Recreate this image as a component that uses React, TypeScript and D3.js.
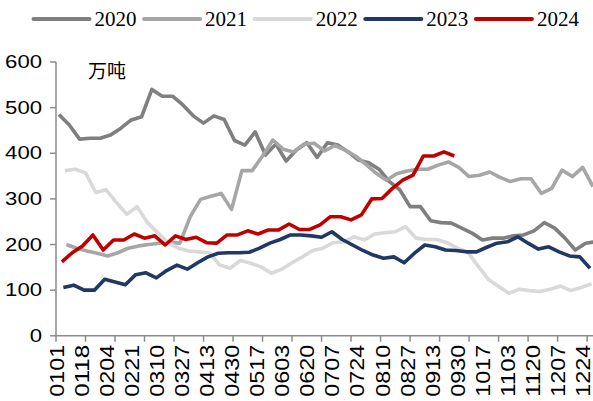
import React from 'react';
import * as d3 from 'd3';

const years = ['2020', '2021', '2022', '2023', '2024'];
// day-of-year index (0 = Jan 1) of the first weekly observation of each year
const firstObsDay = [2, 7, 6, 5, 4];

const v2020 = [485, 462, 431, 433, 433, 440, 455, 473, 480, 540, 525, 525, 506, 482, 466, 482, 474, 428, 418, 447, 396, 420, 383, 407, 423, 391, 423, 418, 403, 385, 379, 365, 338, 320, 283, 283, 252, 248, 247, 236, 225, 210, 214, 214, 219, 221, 230, 248, 236, 214, 188, 203, 206];
const v2021 = [200, 192, 186, 181, 175, 182, 192, 197, 200, 203, 205, 203, 261, 299, 306, 312, 277, 362, 362, 394, 429, 409, 403, 420, 422, 405, 417, 407, 394, 376, 356, 341, 355, 361, 365, 365, 374, 381, 369, 349, 352, 359, 347, 338, 344, 344, 312, 323, 363, 349, 369, 327];
const v2022 = [362, 365, 357, 314, 320, 292, 266, 283, 248, 226, 204, 192, 186, 184, 182, 155, 148, 165, 159, 151, 137, 146, 160, 173, 187, 192, 204, 206, 217, 210, 223, 226, 228, 239, 214, 211, 211, 204, 192, 184, 153, 124, 108, 93, 102, 99, 97, 102, 109, 99, 106, 114];
const v2023 = [106, 111, 100, 100, 124, 118, 112, 134, 138, 127, 143, 155, 146, 160, 173, 181, 182, 182, 183, 192, 203, 211, 221, 221, 219, 216, 228, 211, 199, 187, 177, 170, 173, 160, 181, 199, 195, 188, 187, 184, 184, 194, 203, 206, 217, 203, 190, 195, 184, 175, 173, 148];
const v2024 = [162, 182, 197, 221, 188, 210, 210, 223, 214, 219, 199, 219, 211, 216, 204, 203, 221, 221, 230, 223, 232, 232, 245, 233, 233, 243, 261, 261, 254, 265, 300, 301, 323, 341, 352, 394, 394, 403, 394];

const seriesValues = [v2020, v2021, v2022, v2023, v2024];
const colors = ['#7f7f7f', '#a6a6a6', '#d9d9d9', '#1f3864', '#c00000'];

const xLabels = ['0101', '0118', '0204', '0221', '0310', '0327', '0413', '0430', '0517', '0603', '0620', '0707', '0724', '0810', '0827', '0913', '0930', '1017', '1103', '1120', '1207', '1224'];
const labelStepDays = 17;
const tickStepDays = 20;
const yTicks = [0, 100, 200, 300, 400, 500, 600];
const unitLabel = '万吨';

export default function App() {
  const W = 593;
  const H = 401;
  const left = 56;
  const right = 593;
  const top = 62;
  const bottom = 335.8;

  const x = d3.scaleLinear().domain([0, 364]).range([left, right]);
  const y = d3.scaleLinear().domain([0, 600]).range([bottom, top]);
  const line = d3
    .line<[number, number]>()
    .x((d) => x(d[0]))
    .y((d) => y(d[1]));

  const axisColor = '#8c8c8c';
  const tickDays = d3.range(0, 361, tickStepDays);

  return (
    <svg
      width={W}
      height={H}
      style={{ position: 'absolute', left: 0, top: 0, background: '#fff' }}
    >
      <defs>
        <clipPath id="plotClip">
          <rect x={left} y={0} width={right - left} height={H} />
        </clipPath>
      </defs>
      <rect x={0} y={0} width={W} height={H} fill="#fff" />

      {/* Legend */}
      {years.map((yr, k) => {
        const x0 = 33.5 + 110.6 * k;
        return (
          <g key={yr}>
            <line x1={x0} x2={x0 + 56} y1={19} y2={19} stroke={colors[k]} strokeWidth={4} strokeLinecap="round" />
            <text
              x={x0 + 61}
              y={19}
              dominantBaseline="central"
              fontFamily="'Liberation Serif', 'Times New Roman', serif"
              fontSize={21}
              fill="#000"
            >
              {yr}
            </text>
          </g>
        );
      })}

      {/* Y axis */}
      <line x1={left} x2={left} y1={top} y2={bottom} stroke={axisColor} strokeWidth={1.5} />
      {yTicks.map((t) => (
        <g key={t}>
          <line x1={left - 6} x2={left} y1={y(t)} y2={y(t)} stroke={axisColor} strokeWidth={1.5} />
          <text
            x={42}
            y={y(t)}
            textAnchor="end"
            dominantBaseline="central"
            fontFamily="'Liberation Sans', Arial, sans-serif"
            fontSize={18}
            textLength={String(t).length * 12.3}
            lengthAdjust="spacingAndGlyphs"
            fill="#000"
          >
            {t}
          </text>
        </g>
      ))}

      {/* X axis */}
      <line x1={left} x2={right} y1={bottom} y2={bottom} stroke={axisColor} strokeWidth={1.5} />
      {tickDays.map((d) => (
        <line key={d} x1={x(d)} x2={x(d)} y1={bottom} y2={bottom + 6} stroke={axisColor} strokeWidth={1.5} />
      ))}
      {xLabels.map((lab, k) => (
        <text
          key={lab}
          transform={`translate(${x(k * labelStepDays)},${bottom + 9}) rotate(-90)`}
          textAnchor="end"
          dominantBaseline="central"
          fontFamily="'Liberation Sans', Arial, sans-serif"
          fontSize={21}
          textLength={52}
          lengthAdjust="spacingAndGlyphs"
          fill="#000"
        >
          {lab}
        </text>
      ))}

      {/* unit */}
      <text
        x={88}
        y={69}
        dominantBaseline="central"
        fontFamily="'Noto Sans CJK SC', sans-serif"
        fontSize={19}
        fill="#000"
      >
        {unitLabel}
      </text>

      {/* Series */}
      <g clipPath="url(#plotClip)">
        {seriesValues.map((vals, k) => {
          const pts: [number, number][] = vals.map((v, i) => [firstObsDay[k] + 7 * i, v]);
          return (
            <path
              key={years[k]}
              d={line(pts) || ''}
              fill="none"
              stroke={colors[k]}
              strokeWidth={3.6}
              strokeLinejoin="round"
              strokeLinecap="butt"
            />
          );
        })}
      </g>
    </svg>
  );
}
